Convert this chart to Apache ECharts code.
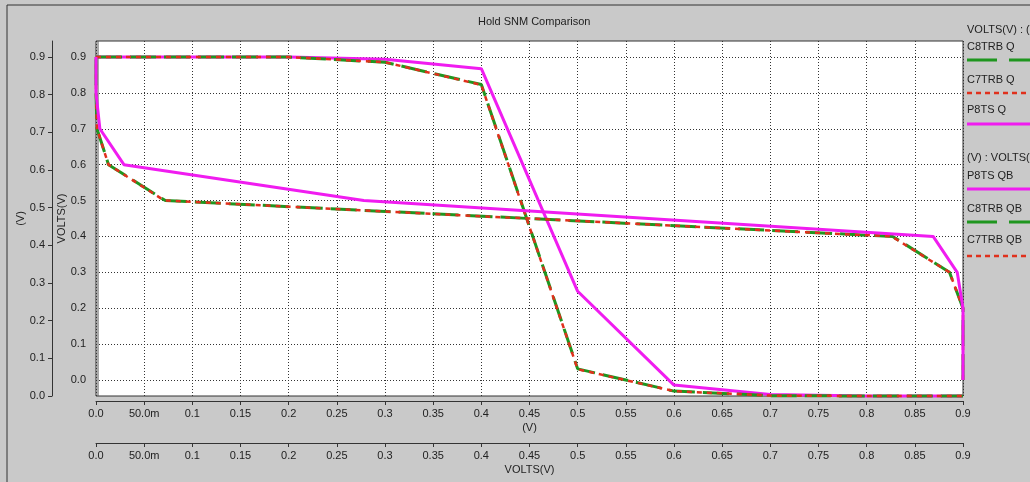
<!DOCTYPE html>
<html><head><meta charset="utf-8">
<script src="https://cdn.jsdelivr.net/npm/echarts@6/dist/echarts.min.js"></script>
<style>html,body{margin:0;padding:0;background:#c9c9c9}#c{width:1030px;height:482px}</style>
</head><body><div id="c"></div>
<script>
// input sweep (V)
const vin = [0, 0.1, 0.2, 0.3, 0.4, 0.5, 0.6, 0.7, 0.8, 0.9];
// output node values for each cell
const c8trb = [0.9, 0.9, 0.9, 0.886, 0.827, 0.072, 0.013, 0.001, 0, 0];
const c7trb = [0.9, 0.9, 0.9, 0.886, 0.826, 0.071, 0.013, 0.001, 0, 0];
const p8ts  = [0.9, 0.9, 0.9, 0.894, 0.869, 0.278, 0.029, 0.004, 0, 0];
// tick labels
const xTickLabels = ['0.0','50.0m','0.1','0.15','0.2','0.25','0.3','0.35','0.4','0.45','0.5','0.55','0.6','0.65','0.7','0.75','0.8','0.85','0.9'];
const yTickLabels = ['0.0','0.1','0.2','0.3','0.4','0.5','0.6','0.7','0.8','0.9'];

const FONT = 'Liberation Sans, Arial, sans-serif';
const TXT = '#222';
const GREEN = '#1f961f', RED = '#e0301c', MAG = '#f01cf0';

const xFmt = v => xTickLabels[Math.round(v / 0.05)] ?? '';
const yFmt = v => yTickLabels[Math.round(v / 0.1)] ?? '';

function qData(arr) { return vin.map((v, i) => [v, arr[i]]); }
function qbData(arr) { return vin.map((v, i) => [arr[i], v]); }

const dotted = { show: true, lineStyle: { color: '#333', width: 1, type: [1, 2] } };
const axLine = { show: true, onZero: false, lineStyle: { color: '#333' } };

const chart = echarts.init(document.getElementById('c'), null, { renderer: 'canvas' });
chart.setOption({
  animation: false,
  backgroundColor: '#c9c9c9',
  textStyle: { fontFamily: FONT },
  title: {
    text: 'Hold SNM Comparison', left: 473, top: 11,
    textStyle: { fontSize: 11, fontWeight: 'normal', color: TXT, fontFamily: FONT }
  },
  grid: [
    { left: 96, top: 41, width: 867, height: 355, show: true, backgroundColor: '#fff', borderColor: '#333', borderWidth: 1 },
    { left: 96, top: 57, width: 867, height: 323 }
  ],
  xAxis: [
    { gridIndex: 0, type: 'value', min: 0, max: 0.9, interval: 0.05, offset: 5,
      axisLine: axLine,
      axisTick: { show: true, length: 4, lineStyle: { color: '#333' } },
      axisLabel: { margin: 7, color: TXT, fontSize: 11, fontFamily: FONT, formatter: xFmt },
      splitLine: dotted,
      name: '(V)', nameLocation: 'middle', nameGap: 21, nameMoveOverlap: false,
      nameTextStyle: { color: TXT, fontSize: 11, fontFamily: FONT } },
    { gridIndex: 1, type: 'value', min: 0, max: 0.9, interval: 0.05, offset: 63,
      axisLine: axLine,
      axisTick: { show: true, length: 4, lineStyle: { color: '#333' } },
      axisLabel: { margin: 7, color: TXT, fontSize: 11, fontFamily: FONT, formatter: xFmt },
      splitLine: { show: false },
      name: 'VOLTS(V)', nameLocation: 'middle', nameGap: 21, nameMoveOverlap: false,
      nameTextStyle: { color: TXT, fontSize: 11, fontFamily: FONT } }
  ],
  yAxis: [
    { gridIndex: 0, type: 'value', min: 0, max: 0.9425, interval: 0.1, offset: 44,
      axisLine: axLine,
      axisTick: { show: true, length: 4, lineStyle: { color: '#333' } },
      axisLabel: { margin: 7, color: TXT, fontSize: 11, fontFamily: FONT, formatter: yFmt, showMaxLabel: false },
      splitLine: { show: false },
      name: '(V)', nameLocation: 'middle', nameGap: 26, nameRotate: 90, nameMoveOverlap: false,
      nameTextStyle: { color: TXT, fontSize: 11, fontFamily: FONT } },
    { gridIndex: 1, type: 'value', min: 0, max: 0.9, interval: 0.1,
      axisLine: { show: false, onZero: false },
      axisTick: { show: false },
      axisLabel: { margin: 10, color: TXT, fontSize: 11, fontFamily: FONT, formatter: yFmt },
      splitLine: dotted,
      name: 'VOLTS(V)', nameLocation: 'middle', nameGap: 29, nameRotate: 90, nameMoveOverlap: false,
      nameTextStyle: { color: TXT, fontSize: 11, fontFamily: FONT } }
  ],
  series: [
    { name: 'P8TS Q', type: 'line', xAxisIndex: 0, yAxisIndex: 0, data: qData(p8ts), showSymbol: false, clip: false,
      lineStyle: { color: MAG, width: 3 } },
    { name: 'C8TRB Q', type: 'line', xAxisIndex: 0, yAxisIndex: 0, data: qData(c8trb), showSymbol: false, clip: false,
      lineStyle: { color: GREEN, width: 3, type: [26, 8] } },
    { name: 'C7TRB Q', type: 'line', xAxisIndex: 0, yAxisIndex: 0, data: qData(c7trb), showSymbol: false, clip: false,
      lineStyle: { color: RED, width: 2.5, type: [5, 5] } },
    { name: 'C8TRB QB', type: 'line', xAxisIndex: 1, yAxisIndex: 1, data: qbData(c8trb), showSymbol: false, clip: false,
      lineStyle: { color: GREEN, width: 3, type: [26, 8] } },
    { name: 'C7TRB QB', type: 'line', xAxisIndex: 1, yAxisIndex: 1, data: qbData(c7trb), showSymbol: false, clip: false,
      lineStyle: { color: RED, width: 2.5, type: [5, 5] } },
    { name: 'P8TS QB', type: 'line', xAxisIndex: 1, yAxisIndex: 1, data: qbData(p8ts), showSymbol: false, clip: false,
      lineStyle: { color: MAG, width: 3 } }
  ],
  graphic: [
    { type: 'rect', shape: { x: 7, y: 5, width: 1040, height: 490 }, style: { fill: null, stroke: '#333', lineWidth: 1 }, silent: true },
    { type: 'line', shape: { x1: 98, y1: 41, x2: 98, y2: 396 }, style: { stroke: '#555', lineWidth: 1 }, silent: true },
    { type: 'text', x: 967, y: 30, style: { text: 'VOLTS(V) : (V)', fill: TXT, font: '11px ' + FONT, verticalAlign: 'middle' } },
    { type: 'text', x: 967, y: 47, style: { text: 'C8TRB Q', fill: TXT, font: '11px ' + FONT, verticalAlign: 'middle' } },
    { type: 'line', shape: { x1: 967, y1: 60, x2: 1040, y2: 60 }, style: { stroke: GREEN, lineWidth: 3, lineDash: [30, 12] } },
    { type: 'text', x: 967, y: 80, style: { text: 'C7TRB Q', fill: TXT, font: '11px ' + FONT, verticalAlign: 'middle' } },
    { type: 'line', shape: { x1: 967, y1: 93, x2: 1040, y2: 93 }, style: { stroke: RED, lineWidth: 2.5, lineDash: [5, 4] } },
    { type: 'text', x: 967, y: 110, style: { text: 'P8TS Q', fill: TXT, font: '11px ' + FONT, verticalAlign: 'middle' } },
    { type: 'line', shape: { x1: 967, y1: 124, x2: 1040, y2: 124 }, style: { stroke: MAG, lineWidth: 3 } },
    { type: 'text', x: 967, y: 158, style: { text: '(V) : VOLTS(V)', fill: TXT, font: '11px ' + FONT, verticalAlign: 'middle' } },
    { type: 'text', x: 967, y: 176, style: { text: 'P8TS QB', fill: TXT, font: '11px ' + FONT, verticalAlign: 'middle' } },
    { type: 'line', shape: { x1: 967, y1: 189, x2: 1040, y2: 189 }, style: { stroke: MAG, lineWidth: 3 } },
    { type: 'text', x: 967, y: 209, style: { text: 'C8TRB QB', fill: TXT, font: '11px ' + FONT, verticalAlign: 'middle' } },
    { type: 'line', shape: { x1: 967, y1: 222, x2: 1040, y2: 222 }, style: { stroke: GREEN, lineWidth: 3, lineDash: [30, 12] } },
    { type: 'text', x: 967, y: 240, style: { text: 'C7TRB QB', fill: TXT, font: '11px ' + FONT, verticalAlign: 'middle' } },
    { type: 'line', shape: { x1: 967, y1: 256, x2: 1040, y2: 256 }, style: { stroke: RED, lineWidth: 2.5, lineDash: [5, 4] } }
  ]
});
</script>
</body></html>
